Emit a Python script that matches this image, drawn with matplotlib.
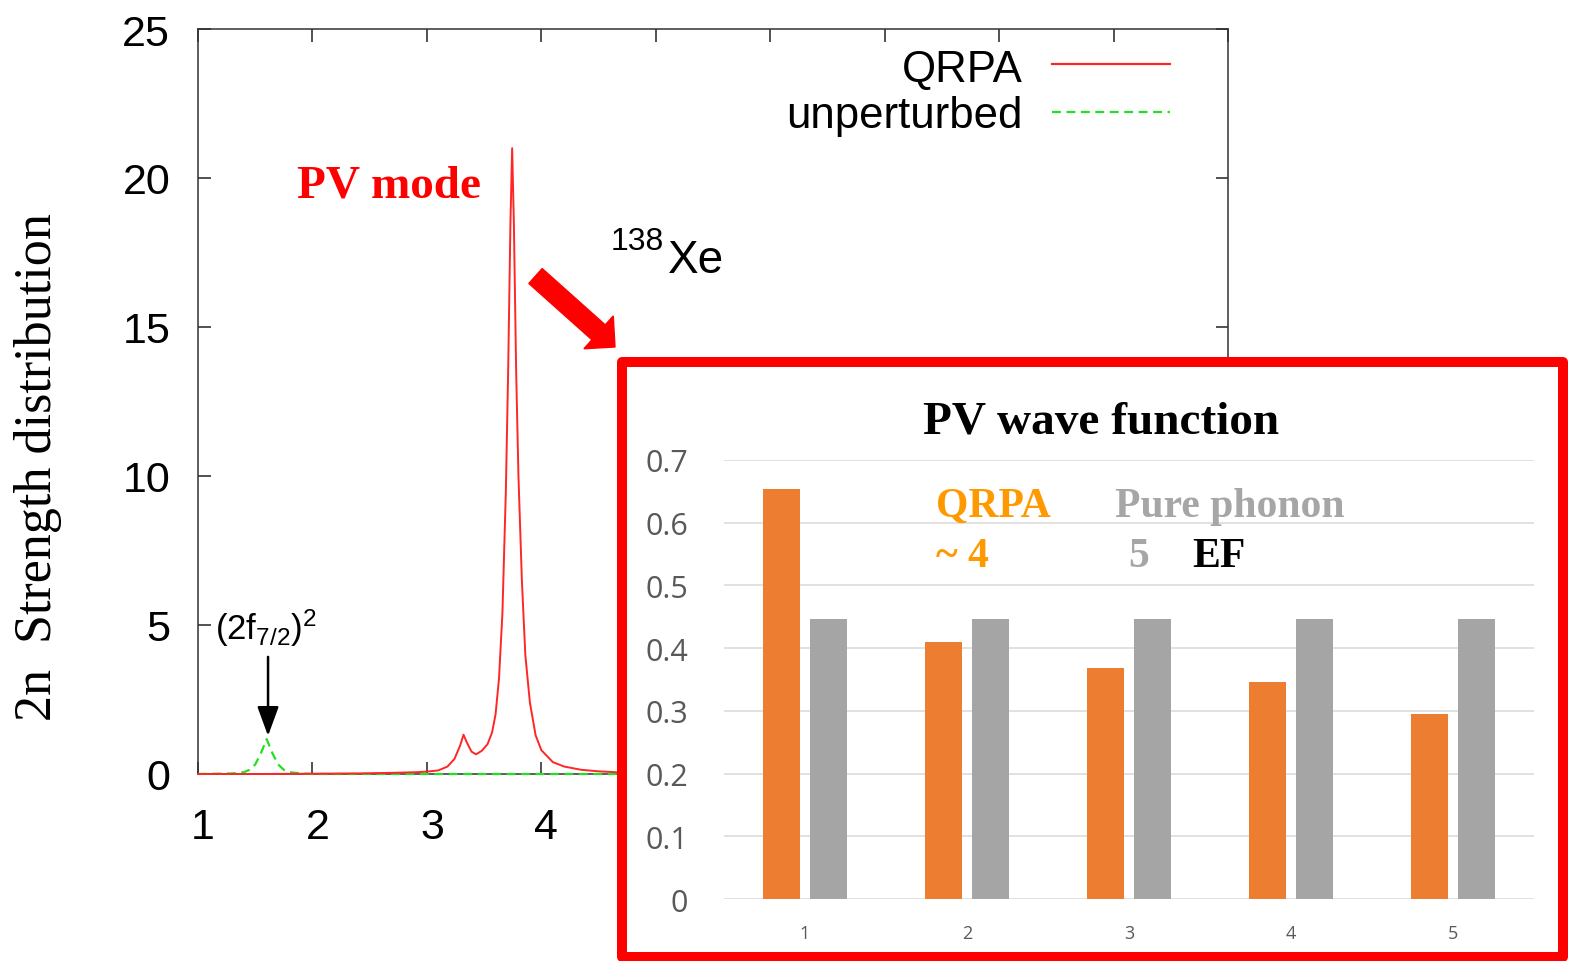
import matplotlib
matplotlib.use("Agg")
import matplotlib.pyplot as plt
from matplotlib.patches import Rectangle, FancyArrow
from matplotlib.transforms import IdentityTransform, ScaledTranslation
import numpy as np

# ---------------- data ----------------
energy_qrpa = [1.0, 1.5, 2.0, 2.4, 2.7, 2.9, 3.0, 3.1, 3.18, 3.24, 3.29, 3.32, 3.35,
               3.39, 3.43, 3.48, 3.53, 3.57, 3.60, 3.63, 3.66, 3.69, 3.71, 3.73,
               3.745, 3.76, 3.78, 3.80, 3.83, 3.86, 3.90, 3.95, 4.0, 4.1, 4.2,
               4.35, 4.5, 4.7, 5.0, 6.0, 7.0, 8.0, 9.0, 10.0]
strength_qrpa = [0.0, 0.0, 0.01, 0.02, 0.04, 0.06, 0.08, 0.12, 0.25, 0.5, 0.95, 1.32,
                 1.05, 0.75, 0.66, 0.78, 1.0, 1.4, 2.0, 3.2, 5.4, 9.5, 13.5, 18.5,
                 21.0, 18.5, 13.5, 10.0, 6.5, 4.0, 2.4, 1.3, 0.8, 0.4, 0.25,
                 0.14, 0.09, 0.05, 0.03, 0.01, 0.0, 0.0, 0.0, 0.0]

energy_unp = [1.0, 1.3, 1.4, 1.45, 1.5, 1.55, 1.60, 1.65, 1.70, 1.75, 1.8, 1.9, 2.0, 10.0]
strength_unp = [0.0, 0.02, 0.06, 0.14, 0.32, 0.70, 1.17, 0.70, 0.32, 0.14, 0.06, 0.02, 0.0, 0.0]

x_ticks = [1, 2, 3, 4, 5, 6, 7, 8, 9, 10]
x_ticklabels = ["1", "2", "3", "4", "", "", "", "", "", ""]  # the rest lie under the inset
y_ticks = [0, 5, 10, 15, 20, 25]

components = ["1", "2", "3", "4", "5"]
qrpa_amp = [0.654, 0.410, 0.368, 0.346, 0.295]
pure_amp = [0.447, 0.447, 0.447, 0.447, 0.447]
inset_yticks = [0, 0.1, 0.2, 0.3, 0.4, 0.5, 0.6, 0.7]

# ---------------- figure ----------------
W, H = 1571, 962
fig = plt.figure(figsize=(W / 100, H / 100), dpi=100)
fig.patch.set_facecolor("white")

def fx(x):
    return x / W

def fy(y):
    return 1 - y / H

SANS = "Liberation Sans"
SERIF = "Liberation Serif"
plt.rcParams["mathtext.fontset"] = "custom"
plt.rcParams["mathtext.rm"] = SANS
plt.rcParams["mathtext.it"] = SANS

RED = "#ff2626"
GREEN = "#22e022"

# main axes
ax = fig.add_axes([fx(198), fy(775), fx(1228) - fx(198), fy(30) - fy(775)])
ax.set_zorder(0)
ax.plot(energy_unp, strength_unp, color=GREEN, lw=1.6, dashes=(4, 2.5), zorder=3,
        clip_on=False)
ax.plot(energy_qrpa, strength_qrpa, color=RED, lw=1.4, zorder=4, clip_on=False)
ax.set_xlim(1, 10)
ax.set_ylim(0, 25)
ax.set_xticks(x_ticks)
ax.set_xticklabels(x_ticklabels)
ax.set_yticks(y_ticks)
ax.tick_params(direction="in", length=9, width=1.1, top=True, right=True,
               labelsize=31, colors="#222222")
ax.tick_params(axis="y", pad=20)
ax.tick_params(axis="x", pad=24)
shift = ScaledTranslation(5 / 100, 0, fig.dpi_scale_trans)
for lab in ax.get_xticklabels():
    lab.set_transform(lab.get_transform() + shift)
for lab in ax.get_xticklabels() + ax.get_yticklabels():
    lab.set_fontfamily(SANS)
    lab.set_color("black")
for s in ax.spines.values():
    s.set_linewidth(1.1)
    s.set_color("#333333")

# legend (manual, gnuplot style)
leg_items = [("QRPA", RED, "-", 82, 65), ("unperturbed", GREEN, "--", 128, 113)]
for label, col, ls, base, ly in leg_items:
    fig.text(fx(1023), fy(base), label, ha="right", va="baseline",
             fontsize=31.5, family=SANS, color="black")
    ln = plt.Line2D([fx(1052), fx(1170)], [fy(ly), fy(ly)], transform=fig.transFigure,
                    color=col, lw=1.6, linestyle=ls)
    if ls == "--":
        ln.set_dashes((4, 2.5))
    fig.add_artist(ln)

# annotations in main plot
fig.text(fx(297), fy(197), "PV mode", ha="left", va="baseline", fontsize=34,
         family=SERIF, weight="bold", color="#ff0000")
fig.text(fx(611), fy(250), "138", ha="left", va="baseline", fontsize=23, family=SANS)
fig.text(fx(668), fy(273), "Xe", ha="left", va="baseline", fontsize=33, family=SANS)
fig.text(fx(215), fy(640), r"(2f$_{7/2}$)$^{2}$", ha="left", va="baseline",
         fontsize=25, family=SANS)
ax.annotate("", xy=(1.612, 1.28), xytext=(1.612, 3.93),
            arrowprops=dict(arrowstyle="-|>,head_width=0.33,head_length=0.9",
                            mutation_scale=20, color="black", lw=1.8,
                            shrinkA=0, shrinkB=0))

# y label
fig.text(fx(38), fy(467), "2n  Strength distribution", rotation=90, ha="center",
         va="center", fontsize=37.5, family=SERIF, color="black")

# red block arrow
arr = FancyArrow(535.5, H - 277, 79.5, -71, width=20, head_width=44, head_length=22,
                 length_includes_head=True, color="#ff0000", transform=IdentityTransform(),
                 zorder=10)
fig.add_artist(arr)

# inset box
box = Rectangle((fx(622), fy(958)), fx(1563) - fx(622), fy(363) - fy(958),
                transform=fig.transFigure, facecolor="white", edgecolor="#ff0000",
                lw=7.2, joinstyle="round", zorder=5)
fig.add_artist(box)

iax = fig.add_axes([fx(724), fy(900), fx(1534) - fx(724), fy(461) - fy(900)])
iax.set_zorder(6)
iax.set_facecolor("none")
xpos = np.arange(len(components))
bw = 0.225
off = 0.145
iax.bar(xpos - off, qrpa_amp, width=bw, color="#ED7D31", zorder=3)
iax.bar(xpos + off, pure_amp, width=bw, color="#A5A5A5", zorder=3)
iax.set_xlim(-0.5, len(components) - 0.5)
iax.set_ylim(0, 0.7)
iax.set_yticks(inset_yticks)
iax.set_yticklabels(["0" if v == 0 else f"{v:.1f}" for v in inset_yticks])
iax.set_xticks(xpos)
iax.set_xticklabels(components)
iax.grid(axis="y", color="#d9d9d9", lw=1.1, zorder=0)
iax.set_axisbelow(True)
for s in iax.spines.values():
    s.set_visible(False)
iax.tick_params(axis="both", length=0)
iax.tick_params(axis="y", pad=26, labelsize=22, colors="#595959")
iax.tick_params(axis="x", pad=18, labelsize=13, colors="#595959")
for lab in iax.get_xticklabels() + iax.get_yticklabels():
    lab.set_fontfamily("Open Sans")

# inset texts
fig.text(fx(1101), fy(433), "PV wave function", ha="center", va="baseline", fontsize=34,
         family=SERIF, weight="bold", color="black", zorder=10)
fig.text(fx(936), fy(517), "QRPA", ha="left", va="baseline", fontsize=30,
         family=SERIF, weight="bold", color="#FF9900", zorder=10)
fig.text(fx(936), fy(567), "~ 4", ha="left", va="baseline", fontsize=30,
         family=SERIF, weight="bold", color="#FF9900", zorder=10)
fig.text(fx(1115), fy(517), "Pure phonon", ha="left", va="baseline", fontsize=30,
         family=SERIF, weight="bold", color="#A6A6A6", zorder=10)
fig.text(fx(1128), fy(567), "5", ha="left", va="baseline", fontsize=30,
         family=SERIF, weight="bold", color="#A6A6A6", zorder=10)
fig.text(fx(1192), fy(567), "EF", ha="left", va="baseline", fontsize=30,
         family=SERIF, weight="bold", color="black", zorder=10)

fig.savefig("out.png", dpi=100, facecolor="white")
